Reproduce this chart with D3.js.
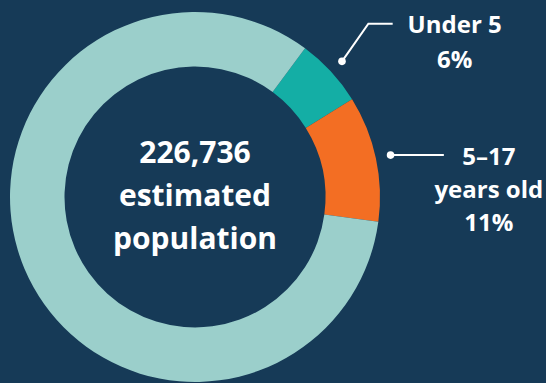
<!DOCTYPE html>
<html>
<head>
<meta charset="utf-8">
<script src="https://cdn.jsdelivr.net/npm/d3@7"></script>
<style>
  html, body { margin: 0; padding: 0; background: #163a57; overflow: hidden; }
  text { font-family: "Open Sans", "Noto Sans", sans-serif; font-weight: 700; fill: #ffffff; }
</style>
</head>
<body>
<svg id="chart" width="546" height="383"></svg>
<script>
// Population by age group (percent of total)
const groups = ["Under 5", "5–17 years old", "18 and older"];
const shares = [6, 11, 83];
const colors = ["#14aea5", "#f36e23", "#9bcfcb"];
const totalPopulation = 226736;
const centerCaption = ["estimated", "population"];
// Which groups get a callout, and how their names wrap
const calloutIndex = [0, 1];
const calloutName = [["Under 5"], ["5–17", "years old"]];

const width = 546, height = 383;
const cx = 195, cy = 197;
const outerR = 185, innerR = 130.5;

const svg = d3.select("#chart");
const g = svg.append("g").attr("transform", `translate(${cx},${cy})`);

const startAngle = 36.5 * Math.PI / 180;
const pie = d3.pie()
  .sort(null)
  .value(d => d)
  .startAngle(startAngle)
  .endAngle(startAngle + 2 * Math.PI);

const arcs = pie(shares);
const arc = d3.arc().innerRadius(innerR).outerRadius(outerR);

g.selectAll("path.slice")
  .data(arcs)
  .join("path")
  .attr("class", "slice")
  .attr("d", arc)
  .attr("fill", (d, i) => colors[i]);

// Centre total
const centerLines = [d3.format(",")(totalPopulation), ...centerCaption];
g.append("text")
  .attr("text-anchor", "middle")
  .style("font-size", "30px")
  .selectAll("tspan")
  .data(centerLines)
  .join("tspan")
  .attr("x", 0)
  .attr("y", (d, i) => -34 + i * 43)
  .text(d => d);

// Callouts: dot just outside the ring, leader line, label
const dotArc = d3.arc().innerRadius(200).outerRadius(200);
const leaderShape = [
  { elbow: [26.4, -37.6], run: 24.3, textDx: 62, textDy: 9, lead: 35 },
  { elbow: [0, 0], run: 53.3, textDx: 45, textDy: 10, lead: 33 }
];

calloutIndex.forEach((idx, k) => {
  const a = arcs[idx];
  const [dx, dy] = dotArc.centroid(a);
  const s = leaderShape[k];
  const ex = dx + s.elbow[0], ey = dy + s.elbow[1];
  const endX = ex + s.run;

  g.append("path")
    .attr("d", d3.line()([[dx, dy], [ex, ey], [endX, ey]]))
    .attr("fill", "none")
    .attr("stroke", "#ffffff")
    .attr("stroke-width", 2);

  g.append("circle")
    .attr("cx", dx).attr("cy", dy).attr("r", 3.8)
    .attr("fill", "#ffffff");

  const lines = [...calloutName[k], `${shares[idx]}%`];
  g.append("text")
    .attr("text-anchor", "middle")
    .style("font-size", "24px")
    .selectAll("tspan")
    .data(lines)
    .join("tspan")
    .attr("x", endX + s.textDx)
    .attr("y", (d, i) => ey + s.textDy + i * s.lead)
    .text(d => d);
});
</script>
</body>
</html>
